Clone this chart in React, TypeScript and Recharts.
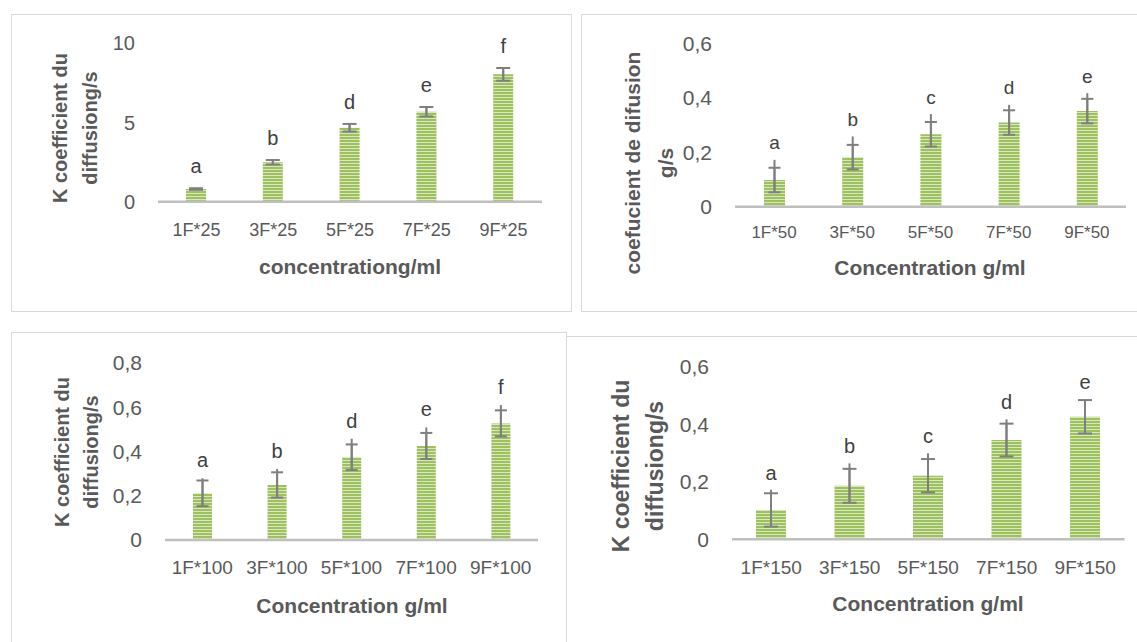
import React from 'react';
import { BarChart, Bar, XAxis, YAxis, ErrorBar, LabelList } from 'recharts';

const FONT = '"Liberation Sans", Arial, sans-serif';
const GREY = '#595959';

// 25 g/ml series
const cats25 = ['1F*25', '3F*25', '5F*25', '7F*25', '9F*25'];
const k25 = [0.8, 2.49, 4.67, 5.68, 8.04];
const err25 = [0.05, 0.14, 0.24, 0.3, 0.4];
const whisk25 = [0.05, 0.14, 0.24, 0.3, 0.4];
const letters25 = ['a', 'b', 'd', 'e', 'f'];

// 50 g/ml series
const cats50 = ['1F*50', '3F*50', '5F*50', '7F*50', '9F*50'];
const k50 = [0.098, 0.182, 0.266, 0.309, 0.351];
const err50 = [0.045, 0.045, 0.045, 0.045, 0.045];
const whisk50 = [0.074, 0.076, 0.074, 0.065, 0.066];
const letters50 = ['a', 'b', 'c', 'd', 'e'];

// 100 g/ml series
const cats100 = ['1F*100', '3F*100', '5F*100', '7F*100', '9F*100'];
const k100 = [0.211, 0.249, 0.374, 0.425, 0.527];
const err100 = [0.058, 0.057, 0.058, 0.059, 0.059];
const whisk100 = [0.068, 0.072, 0.084, 0.084, 0.083];
const letters100 = ['a', 'b', 'd', 'e', 'f'];

// 150 g/ml series
const cats150 = ['1F*150', '3F*150', '5F*150', '7F*150', '9F*150'];
const k150 = [0.102, 0.186, 0.221, 0.345, 0.426];
const err150 = [0.058, 0.059, 0.058, 0.057, 0.058];
const whisk150 = [0.07, 0.078, 0.078, 0.072, 0.06];
const letters150 = ['a', 'b', 'c', 'd', 'e'];

const ticks25 = [0, 5, 10];
const ticks50 = [0, 0.2, 0.4, 0.6];
const ticks100 = [0, 0.2, 0.4, 0.6, 0.8];
const ticks150 = [0, 0.2, 0.4, 0.6];

type Row = { name: string; v: number; err: number; whisk: number[]; letter: string };

function rows(cats: string[], vals: number[], errs: number[], whisk: number[], letters: string[]): Row[] {
  return cats.map((c, i) => ({ name: c, v: vals[i], err: errs[i], whisk: [errs[i], whisk[i]], letter: letters[i] }));
}

const fmt = (v: number) => (v === 0 ? '0' : Number.isInteger(v) ? String(v) : v.toFixed(1).replace('.', ','));

interface PanelProps {
  id: string;
  data: Row[];
  left: number;
  top: number;
  width: number;
  height: number;
  plot: { x0: number; x1: number; y0: number; y1: number };
  max: number;
  ticks: number[];
  barSize: number;
  cap: number;
  yTickSize: number;
  xTickSize: number;
  xTickGap: number;
  letterGap: number;
  letterSize: number;
}

function Panel(p: PanelProps) {
  const xAxisH = 60;
  const margin = {
    top: p.plot.y0 - p.top,
    right: p.left + p.width - p.plot.x1,
    bottom: p.top + p.height - p.plot.y1 - xAxisH,
    left: 0,
  };

  const renderLetter = (lp: any) => {
    const row = p.data[lp.index];
    if (!row) return null;
    const x = Number(lp.x) + Number(lp.width) / 2;
    const ppu = Number(lp.height) / row.v;
    const topY = Number(lp.y) - row.whisk[1] * ppu;
    return (
      <text x={x} y={topY - p.letterGap} textAnchor="middle" dominantBaseline="central"
        fontSize={p.letterSize} fill="#404040" fontFamily={FONT}>
        {row.letter}
      </text>
    );
  };

  return (
    <div style={{ position: 'absolute', left: p.left, top: p.top }}>
      <BarChart width={p.width} height={p.height} data={p.data} margin={margin}>
        <defs>
          <pattern id={p.id} width="4" height="3" patternUnits="userSpaceOnUse">
            <rect width="4" height="3" fill="#d8e7bf" />
            <rect width="4" height="2" fill="#9dc15c" />
          </pattern>
        </defs>
        <XAxis
          dataKey="name"
          height={xAxisH}
          interval={0}
          axisLine={{ stroke: '#bfbfbf', strokeWidth: 2.5 }}
          tickLine={false}
          tickSize={0}
          tickMargin={p.xTickGap}
          tick={{ fontSize: p.xTickSize, fill: GREY, fontFamily: FONT }}
        />
        <YAxis
          width={p.plot.x0 - p.left}
          domain={[0, p.max]}
          ticks={p.ticks}
          axisLine={false}
          tickLine={false}
          tickSize={0}
          tickMargin={23}
          tick={{ fontSize: p.yTickSize, fill: GREY, fontFamily: FONT }}
          tickFormatter={fmt}
        />
        <Bar dataKey="v" barSize={p.barSize} fill={`url(#${p.id})`} isAnimationActive={false}>
          <ErrorBar dataKey="whisk" width={0} stroke="#7f7f7f" strokeWidth={2} isAnimationActive={false} />
          <ErrorBar dataKey="err" width={p.cap} stroke="#7f7f7f" strokeWidth={2} isAnimationActive={false} />
          <LabelList dataKey="v" content={renderLetter} />
        </Bar>
      </BarChart>
    </div>
  );
}

function YTitle({ lines, xs, cy, size }: { lines: string[]; xs: number[]; cy: number; size: number }) {
  return (
    <>
      {lines.map((t, i) => (
        <div key={i} style={{
          position: 'absolute', left: xs[i], top: cy, transform: 'translate(-50%, -50%) rotate(-90deg)',
          whiteSpace: 'nowrap', fontFamily: FONT, fontWeight: 'bold', fontSize: size, color: GREY, lineHeight: 1,
        }}>{t}</div>
      ))}
    </>
  );
}

function XTitle({ text, cx, cy, size }: { text: string; cx: number; cy: number; size: number }) {
  return (
    <div style={{
      position: 'absolute', left: cx, top: cy, transform: 'translate(-50%, -50%)', whiteSpace: 'nowrap',
      fontFamily: FONT, fontWeight: 'bold', fontSize: size, color: GREY, lineHeight: 1,
    }}>{text}</div>
  );
}

const border = '1.5px solid #d9d9d9';

export default function App() {
  return (
    <div style={{ position: 'absolute', left: 0, top: 0, width: 1137, height: 642, overflow: 'hidden', background: '#fff' }}>
      {/* frames */}
      <div style={{ position: 'absolute', left: 11, top: 14, width: 561, height: 298, border, boxSizing: 'border-box' }} />
      <div style={{ position: 'absolute', left: 581, top: 14, width: 600, height: 298, border, boxSizing: 'border-box' }} />
      <div style={{ position: 'absolute', left: 11, top: 332, width: 556, height: 400, border, boxSizing: 'border-box' }} />
      <div style={{ position: 'absolute', left: 567, top: 336, width: 600, height: 0, borderTop: border }} />

      <Panel id="p25" data={rows(cats25, k25, err25, whisk25, letters25)} left={11} top={14} width={561} height={298}
        plot={{ x0: 158, x1: 542, y0: 43.3, y1: 201.7 }} max={10} ticks={ticks25} barSize={20} cap={7}
        yTickSize={20} xTickSize={18} xTickGap={22} letterGap={22} letterSize={20} />
      <YTitle lines={['K coefficient du', 'diffusiong/s']} xs={[60, 90]} cy={128} size={20} />
      <XTitle text="concentrationg/ml" cx={350} cy={266} size={21} />

      <Panel id="p50" data={rows(cats50, k50, err50, whisk50, letters50)} left={581} top={14} width={556} height={298}
        plot={{ x0: 735, x1: 1126, y0: 43.3, y1: 206.7 }} max={0.6} ticks={ticks50} barSize={21} cap={6}
        yTickSize={21} xTickSize={17} xTickGap={19} letterGap={17} letterSize={19} />
      <YTitle lines={['coefucient de difusion', 'g/s']} xs={[632, 665]} cy={163} size={21} />
      <XTitle text="Concentration g/ml" cx={930} cy={267} size={21} />

      <Panel id="p100" data={rows(cats100, k100, err100, whisk100, letters100)} left={11} top={332} width={556} height={310}
        plot={{ x0: 165, x1: 538, y0: 363, y1: 540 }} max={0.8} ticks={ticks100} barSize={19} cap={6}
        yTickSize={21} xTickSize={19} xTickGap={21} letterGap={18} letterSize={20} />
      <YTitle lines={['K coefficient du', 'diffusiong/s']} xs={[62, 91]} cy={452} size={20} />
      <XTitle text="Concentration g/ml" cx={352} cy={605} size={21} />

      <Panel id="p150" data={rows(cats150, k150, err150, whisk150, letters150)} left={567} top={337} width={570} height={305}
        plot={{ x0: 732, x1: 1124.5, y0: 366.7, y1: 539.3 }} max={0.6} ticks={ticks150} barSize={30} cap={7}
        yTickSize={21} xTickSize={19} xTickGap={21} letterGap={17} letterSize={20} />
      <YTitle lines={['K coefficient du', 'diffusiong/s']} xs={[621, 655]} cy={466} size={23} />
      <XTitle text="Concentration g/ml" cx={928} cy={603} size={21} />
    </div>
  );
}
